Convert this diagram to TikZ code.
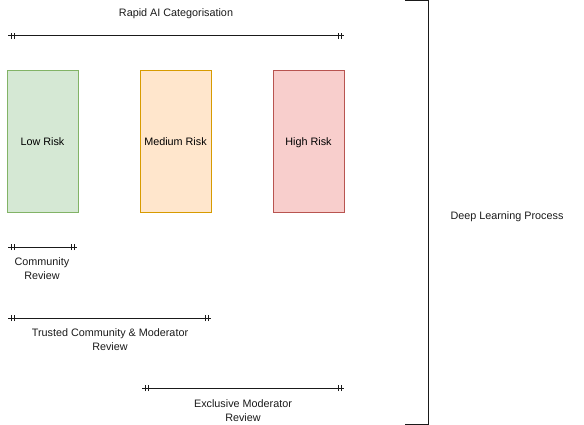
\documentclass[tikz,border=0pt]{standalone}
\usepackage{fontspec}
\setmainfont{Liberation Sans}
\usetikzlibrary{decorations.markings}
\definecolor{gfill}{HTML}{D5E8D4}\definecolor{gdraw}{HTML}{82B366}
\definecolor{ofill}{HTML}{FFE6CC}\definecolor{odraw}{HTML}{D79B00}
\definecolor{rfill}{HTML}{F8CECC}\definecolor{rdraw}{HTML}{B85450}
\definecolor{ink}{HTML}{1A1A1A}
\tikzset{
  riskbox/.style={draw, line width=1pt, minimum width=71pt, minimum height=141pt, inner sep=0pt, text height=8pt, text depth=0.5pt, font=\fontsize{10.8}{13}\selectfont},
  lbl/.style={align=center, font=\fontsize{10.8}{14}\selectfont, inner sep=0pt, text=ink},
  tickend/.style={draw=ink, line width=1pt, postaction={decorate}, decoration={markings,
    mark=at position 3pt with {\draw[line width=0.9pt] (0,-3pt) -- (0,3pt);},
    mark=at position 6pt with {\draw[line width=0.9pt] (0,-3pt) -- (0,3pt);},
    mark=at position -3pt with {\draw[line width=0.9pt] (0,-3pt) -- (0,3pt);},
    mark=at position -6pt with {\draw[line width=0.9pt] (0,-3pt) -- (0,3pt);}}},
}
\begin{document}
\begin{tikzpicture}[x=1pt,y=-1pt]
\useasboundingbox (0,0) rectangle (584,425);
% boxes
\node[riskbox, fill=gfill, draw=gdraw] (low) at (42.5,141.5) {Low Risk};
\node[riskbox, fill=ofill, draw=odraw] (med) at (175.5,141.5) {Medium Risk};
\node[riskbox, fill=rfill, draw=rdraw] (high) at (308.5,141.5) {High Risk};
% top line
\coordinate (a1) at (8,36); \coordinate (a2) at (344,36);
\draw[tickend] (a1) -- (a2);
\node[lbl] (rapid) at (176,14) {Rapid AI Categorisation};
% community
\coordinate (c1) at (8,247); \coordinate (c2) at (77,247);
\draw[tickend] (c1) -- (c2);
\node[lbl] (comm) at (42,269) {Community\\Review};
% trusted
\coordinate (t1) at (8,318); \coordinate (t2) at (211,318);
\draw[tickend] (t1) -- (t2);
\node[lbl] (trust) at (110,340) {Trusted Community \& Moderator\\Review};
% exclusive
\coordinate (e1) at (142,388); \coordinate (e2) at (344,388);
\draw[tickend] (e1) -- (e2);
\node[lbl] (excl) at (243,411) {Exclusive Moderator\\Review};
% bracket
\coordinate (b1) at (405,0.6); \coordinate (b2) at (428,0.6);
\coordinate (b3) at (428,424); \coordinate (b4) at (405,424);
\draw[ink, line width=1pt] (b1) -- (b2) -- (b3) -- (b4);
\node[lbl] (deep) at (507,217) {Deep Learning Process};
\end{tikzpicture}
\end{document}
